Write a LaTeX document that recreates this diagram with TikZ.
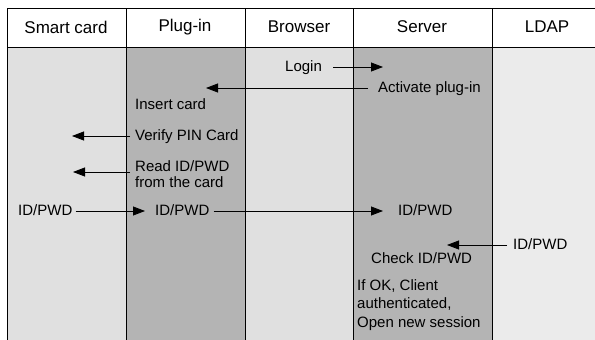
\documentclass[tikz,border=0pt]{standalone}
\usepackage{fontspec}
\setmainfont{Liberation Sans}
\usetikzlibrary{arrows.meta}
\definecolor{lanelight}{RGB}{224,224,224}
\definecolor{lanedark}{RGB}{180,180,180}
\definecolor{lanepale}{RGB}{235,235,235}

\tikzset{
  headtxt/.style={font=\fontsize{17}{20}\selectfont, inner sep=0pt},
  txt/.style={font=\fontsize{15}{17}\selectfont, inner sep=0pt, anchor=west,
    text height=11pt, text depth=3pt},
  msg/.style={-{Triangle[length=12pt,width=9pt]}, line width=0.8pt},
}

\begin{document}
\begin{tikzpicture}[x=1pt,y=-1pt]
\useasboundingbox (0,0) rectangle (595,340);
% swim lanes
\fill[lanelight] (7,47) rectangle (126,340);
\fill[lanedark] (126,47) rectangle (245,340);
\fill[lanelight] (245,47) rectangle (353,340);
\fill[lanedark] (353,47) rectangle (492,340);
\fill[lanepale] (492,47) rectangle (600,340);
\draw[line width=1pt] (600,8) -- (7,8) -- (7,340);
\draw[line width=1pt] (7,47) -- (600,47);
\foreach \x in {126,245,353,492}
  \draw[line width=1pt] (\x,8) -- (\x,340);

% headers
\node[headtxt] (hcard) at (66,27) {Smart card};
\node[headtxt] (hplug) at (185,27) {Plug-in};
\node[headtxt] (hbrowser) at (299,27) {Browser};
\node[headtxt] (hserver) at (422,27) {Server};
\node[headtxt] (hldap) at (547,27) {LDAP};

% messages
\node[txt] (login) at (285,67) {Login};
\coordinate (loginend) at (383,67);
\draw[msg, shorten <=11pt] (login) -- (loginend);

\node[txt] (activate) at (378,88) {Activate plug-in};
\coordinate (activateend) at (206,88);
\draw[msg, shorten <=10pt] (activate) -- (activateend);

\node[txt] (insert) at (135,105) {Insert card};

\node[txt] (verify) at (135,136) {Verify PIN Card};
\coordinate (verifyend) at (72,136);
\draw[msg, shorten <=5pt] (verify) -- (verifyend);

\node[txt, text height=, text depth=, align=left, font=\fontsize{15}{16}\selectfont]
  (read) at (135,174) {Read ID/PWD\\from the card};
\coordinate (readend) at (73,172);
\draw[msg, shorten <=5pt] (read.west |- readend) -- (readend);

\node[txt] (idcard) at (18,211) {ID/PWD};
\node[txt] (idplug) at (155,211) {ID/PWD};
\node[txt] (idserver) at (398,211) {ID/PWD};
\draw[msg, shorten <=3pt, shorten >=10pt] (idcard) -- (idplug);
\draw[msg, shorten <=4pt, shorten >=15pt] (idplug) -- (idserver);

\node[txt] (idldap) at (513,245) {ID/PWD};
\coordinate (ldapend) at (447,245);
\draw[msg, shorten <=6pt] (idldap) -- (ldapend);

\node[txt] (check) at (371,259) {Check ID/PWD};

\node[txt, text height=, text depth=, align=left, font=\fontsize{15}{18.5}\selectfont]
  (session) at (357,305) {If OK, Client\\authenticated,\\Open new session};
\end{tikzpicture}
\end{document}
